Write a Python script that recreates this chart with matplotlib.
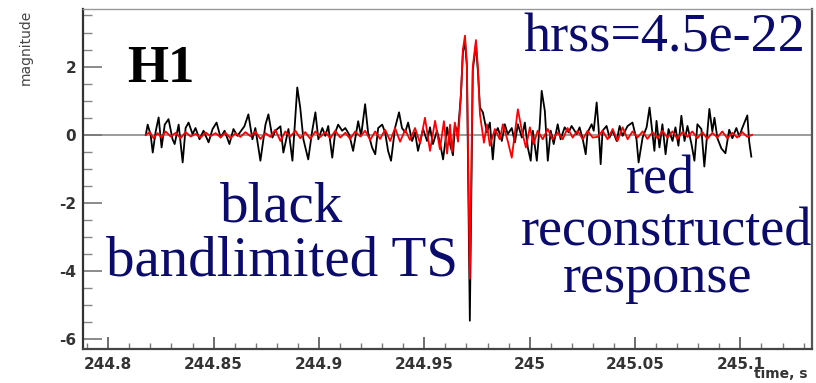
import matplotlib
matplotlib.use("Agg")
import matplotlib.pyplot as plt
from matplotlib.ticker import FixedLocator, MultipleLocator

plt.rcParams['axes.unicode_minus'] = False

# black: bandlimited time series (extrema)
black_t = [244.8178, 244.8187, 244.8201, 244.8211, 244.8225, 244.8239, 244.8253, 244.8268,
           244.8286, 244.8305, 244.8315, 244.8334, 244.8353, 244.8367, 244.8381, 244.8400,
           244.8414, 244.8433, 244.8452, 244.8476, 244.8495, 244.8514, 244.8533, 244.8552,
           244.8575, 244.8594, 244.8613, 244.8646, 244.8665, 244.8684, 244.8698, 244.8722,
           244.8746, 244.8760, 244.8779, 244.8793, 244.8817, 244.8831, 244.8855, 244.8874,
           244.8897, 244.8911, 244.8926, 244.8949, 244.8968, 244.8983, 244.8997, 244.9016,
           244.9030, 244.9044, 244.9063, 244.9077, 244.9091, 244.9110, 244.9125, 244.9144,
           244.9162, 244.9186, 244.9200, 244.9219, 244.9233, 244.9252, 244.9267, 244.9281,
           244.9300, 244.9314, 244.9328, 244.9342, 244.9361, 244.9380, 244.9394, 244.9409,
           244.9423, 244.9442, 244.9456, 244.9470, 244.9494, 244.9513, 244.9527, 244.9541,
           244.9560, 244.9574, 244.9589, 244.9608, 244.9622, 244.9636, 244.9645, 244.9660,
           244.9674, 244.9683, 244.9693, 244.9702, 244.9716, 244.9730, 244.9745, 244.9755,
           244.9764, 244.9778, 244.9797, 244.9811,
           244.9825, 244.9835, 244.9849, 244.9868, 244.9882, 244.9896, 244.9915, 244.9930,
           244.9944, 244.9963, 244.9977, 244.9991, 245.0005, 245.0015, 245.0034, 245.0048,
           245.0057, 245.0072, 245.0086, 245.0100, 245.0114, 245.0133, 245.0147, 245.0166,
           245.0185, 245.0199, 245.0223, 245.0237, 245.0252, 245.0266, 245.0275, 245.0294,
           245.0304, 245.0318, 245.0327, 245.0337, 245.0346, 245.0365, 245.0379, 245.0394,
           245.0413, 245.0427, 245.0441, 245.0465, 245.0488, 245.0507, 245.0517, 245.0536,
           245.0555, 245.0569, 245.0583, 245.0592, 245.0602, 245.0616, 245.0630, 245.0645,
           245.0659, 245.0678, 245.0692, 245.0706, 245.0720, 245.0735, 245.0749, 245.0768,
           245.0782, 245.0796, 245.0815, 245.0829, 245.0853, 245.0867, 245.0877, 245.0891,
           245.0910, 245.0929, 245.0947, 245.0962, 245.0981, 245.0995, 245.1009, 245.1033,
           245.1042, 245.1052]
black_v = [0.0, 0.3, 0.0, -0.52, 0.1, 0.51, -0.37, 0.3,
           0.46, -0.13, -0.27, 0.3, -0.81, 0.2, 0.36, 0.02,
           0.2, -0.13, 0.12, -0.22, 0.17, 0.36, -0.08, 0.12,
           -0.27, 0.17, -0.03, 0.25, 0.6, -0.13, 0.2, -0.76,
           0.3, 0.6, -0.08, 0.12, 0.25, -0.52, 0.17, -0.76,
           1.39, 0.8, -0.13, -0.72, 0.12, 0.66, -0.13, 0.2,
           -0.03, 0.26, -0.67, 0.07, 0.3, 0.12, 0.2, 0.0,
           -0.47, 0.4, -0.03, 0.9, 0.07, -0.37, -0.57, 0.2,
           0.3, 0.07, -0.47, -0.76, 0.2, 0.66, 0.2, 0.07,
           0.36, -0.18, 0.07, -0.47, 0.17, -0.18, 0.22, -0.27,
           0.12, -0.22, -0.72, 0.22, -0.27, -0.6, 0.26, 0.1,
           1.2, 2.4, 2.75, 2.0, -5.45, 1.9, 2.65, 1.8,
           0.8, 0.66, 0.07, 0.36,
           -0.72, 0.02, 0.2, -0.18, 0.31, 0.02, 0.2, -0.22,
           0.31, -0.08, 0.36, -0.37, -0.76, 0.12, -0.76, 0.31,
           1.29, 0.7, -0.76, 0.12, -0.27, 0.31, -0.13, 0.22,
           0.07, 0.26, 0.02, 0.22, -0.13, -0.57, 0.07, 0.31,
           0.12, 0.95, 0.2, -0.86, 0.12, 0.26, -0.08, 0.12,
           -0.18, 0.26, -0.03, 0.26, 0.36, -0.13, -0.81, -0.08,
           0.22, 0.8, 0.02, -0.47, 0.41, -0.37, 0.31, -0.57,
           0.17, -0.18, 0.22, -0.32, 0.56, -0.18, 0.26, -0.27,
           -0.76, 0.31, 0.17, -0.93, 0.76, 0.1, 0.5, -0.1,
           -0.4, -0.54, 0.15, -0.1, 0.2, -0.05, 0.2, 0.57,
           -0.2, -0.64]

# red: reconstructed response
red_t = [244.8178, 244.8197, 244.8215, 244.8234, 244.8253, 244.8272, 244.8296, 244.8320,
         244.8343, 244.8367, 244.8391, 244.8414, 244.8438, 244.8462, 244.8485, 244.8509,
         244.8533, 244.8556, 244.8580, 244.8604, 244.8627, 244.8651, 244.8675, 244.8698,
         244.8722, 244.8746, 244.8769, 244.8793, 244.8817, 244.8840, 244.8864, 244.8888,
         244.8911, 244.8935, 244.8959, 244.8983, 244.9006, 244.9030, 244.9054, 244.9077,
         244.9101, 244.9125, 244.9148, 244.9172, 244.9196, 244.9219, 244.9243, 244.9267,
         244.9290, 244.9314, 244.9338, 244.9361, 244.9385, 244.9409, 244.9432, 244.9456,
         244.9480, 244.9503, 244.9527, 244.9551, 244.9574, 244.9593, 244.9608, 244.9622,
         244.9631, 244.9645, 244.9660, 244.9674, 244.9683, 244.9693, 244.9702, 244.9716,
         244.9730, 244.9745, 244.9755, 244.9764,
         244.9783, 244.9797, 244.9811, 244.9835, 244.9858, 244.9873, 244.9896,
         244.9915, 244.9944, 244.9963, 244.9982, 245.0001, 245.0019, 245.0038, 245.0062,
         245.0086, 245.0109, 245.0133, 245.0157, 245.0180, 245.0204, 245.0228, 245.0252,
         245.0275, 245.0299, 245.0322, 245.0346, 245.0370, 245.0394, 245.0417, 245.0441,
         245.0465, 245.0488, 245.0512, 245.0536, 245.0559, 245.0583, 245.0607, 245.0630,
         245.0654, 245.0678, 245.0701, 245.0725, 245.0749, 245.0772, 245.0796, 245.0820,
         245.0843, 245.0867, 245.0891, 245.0914, 245.0938, 245.0962, 245.0985, 245.1009,
         245.1033, 245.1056]
red_v = [0.0, 0.08, -0.1, 0.05, -0.08, 0.1, -0.05, 0.06,
         -0.1, 0.08, -0.05, 0.03, -0.08, 0.07, -0.04, 0.05,
         -0.07, 0.06, -0.1, 0.05, -0.06, 0.08, -0.04, 0.1,
         -0.12, 0.05, -0.06, 0.15, -0.18, 0.1, -0.05, 0.12,
         -0.1, 0.08, -0.12, 0.1, -0.06, 0.08, -0.1, 0.12,
         -0.08, 0.06, -0.12, 0.1, -0.05, 0.12, -0.15, 0.1,
         -0.12, 0.15, -0.18, 0.2, -0.2, 0.15, -0.15, 0.2,
         -0.25, 0.5, -0.47, 0.41, -0.42, 0.4, -0.55, 0.3,
         -0.5, 0.36, -0.2, 1.2, 2.5, 2.91, 2.1, -4.22,
         2.0, 2.78, 1.9, 0.6,
         -0.23, 0.31, -0.32, 0.17, -0.13, 0.31, -0.18,
         -0.67, 0.75, 0.12, -0.37, 0.22, -0.27, 0.12, -0.13,
         0.17, -0.13, 0.07, -0.13, 0.2, -0.08, 0.12, -0.13,
         0.12, -0.08, -0.06, 0.12, -0.13, 0.17, -0.18, 0.22,
         -0.13, 0.1, -0.08, 0.1, -0.12, 0.08, -0.1, 0.12,
         -0.08, 0.1, -0.12, 0.08, -0.06, 0.1, -0.1, 0.08,
         -0.12, 0.06, -0.08, 0.1, -0.1, 0.06, -0.08, 0.08,
         -0.06, 0.0]

x_ticks = [244.8, 244.85, 244.9, 244.95, 245.0, 245.05, 245.1]
x_tick_labels = ["244.8", "244.85", "244.9", "244.95", "245", "245.05", "245.1"]
y_ticks = [-6, -4, -2, 0, 2]
y_tick_labels = ["-6", "-4", "-2", "0", "2"]

navy = "#0b0b6e"
serif = "Liberation Serif"

fig = plt.figure(figsize=(8.16, 3.83), dpi=100)
ax = fig.add_axes([83 / 816, 1 - 349 / 383, (812 - 83) / 816, (349 - 9) / 383])

ax.axhline(0, color="#8a8a8a", lw=1.2, zorder=1)
ax.plot(black_t, black_v, color="black", lw=1.3, zorder=2)
ax.plot(red_t, red_v, color="red", lw=1.3, zorder=3)

ax.set_xlim(244.788, 245.134)
ax.set_ylim(-6.28, 3.69)

ax.xaxis.set_major_locator(FixedLocator(x_ticks))
ax.set_xticklabels(x_tick_labels)
ax.xaxis.set_minor_locator(MultipleLocator(0.01))
ax.yaxis.set_major_locator(FixedLocator(y_ticks))
ax.set_yticklabels(y_tick_labels)
ax.yaxis.set_minor_locator(MultipleLocator(0.5))

ax.tick_params(axis="x", which="major", direction="in", length=9, width=1.2,
               color="#555555", pad=6, labelsize=11, labelcolor="#333333")
ax.tick_params(axis="x", which="minor", direction="in", length=4.5, width=1.0,
               color="#777777")
ax.tick_params(axis="y", which="major", direction="in", length=14, width=1.2,
               color="#777777", pad=5, labelsize=11, labelcolor="#333333")
ax.tick_params(axis="y", which="minor", direction="in", length=6.5, width=1.0,
               color="#888888")
for lab in ax.get_xticklabels() + ax.get_yticklabels():
    lab.set_fontweight("bold")

ax.spines["left"].set_color("#333333")
ax.spines["left"].set_linewidth(1.6)
ax.spines["bottom"].set_color("#444444")
ax.spines["bottom"].set_linewidth(1.6)
ax.spines["top"].set_color("#999999")
ax.spines["top"].set_linewidth(1.0)
ax.spines["right"].set_color("#555555")
ax.spines["right"].set_linewidth(1.6)

fig.text(26 / 816, 1 - 10 / 383, "magnitude", rotation=90, ha="center", va="top",
         fontsize=10, color="#444444")
fig.text(808 / 816, 1 - 381 / 383, "time, s", ha="right", va="bottom",
         fontsize=10, fontweight="bold", color="#333333")

fig.text(161 / 816, 1 - 82 / 383, "H1", ha="center", va="baseline",
         family=serif, fontweight="bold", fontsize=38, color="black")
fig.text(664 / 816, 1 - 52 / 383, "hrss=4.5e-22", ha="center", va="baseline",
         family=serif, fontsize=39, color=navy)
fig.text(282 / 816, 1 - 222 / 383, "black", ha="center", va="baseline",
         family=serif, fontsize=41, color=navy)
fig.text(282 / 816, 1 - 276 / 383, "bandlimited TS", ha="center", va="baseline",
         family=serif, fontsize=41, color=navy)
fig.text(660 / 816, 1 - 194 / 383, "red", ha="center", va="baseline",
         family=serif, fontsize=39, color=navy)
fig.text(667 / 816, 1 - 245 / 383, "reconstructed", ha="center", va="baseline",
         family=serif, fontsize=39, color=navy)
fig.text(658 / 816, 1 - 292 / 383, "response", ha="center", va="baseline",
         family=serif, fontsize=39, color=navy)

fig.savefig("out.png", dpi=100)
